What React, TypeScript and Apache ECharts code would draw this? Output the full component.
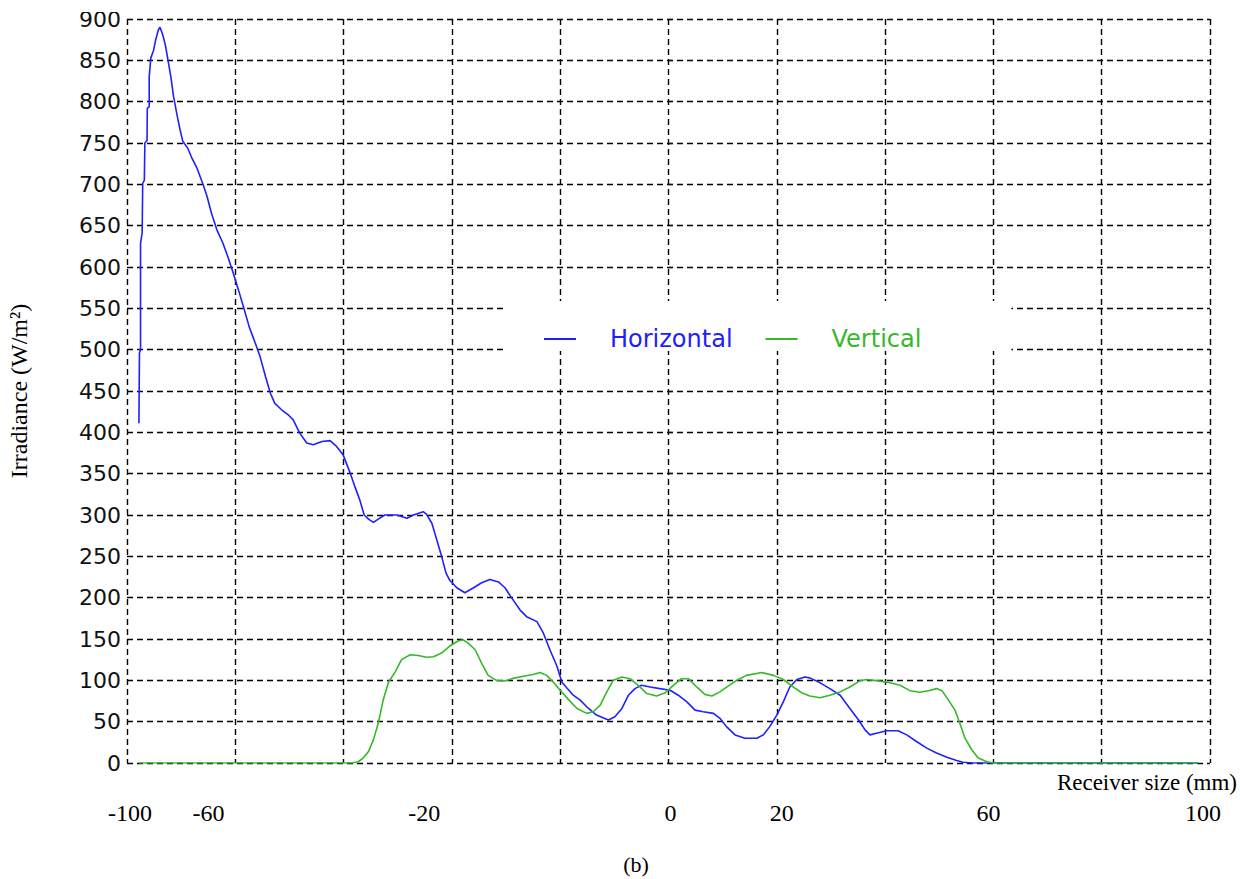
import React, { useEffect, useRef } from "react";
import * as echarts from "echarts";

const xTickLabels = [-100, -60, -20, 0, 20, 60, 100];
// horizontal offsets (px) of the printed tick labels relative to their tick, as placed in the original figure
const xTickShift = [3, -135, -136, 2, 5, -5, -7];

const seriesNames = ["Horizontal", "Vertical"];
const seriesColors = ["#2020ff", "#36b82a"];

const horizontal: [number, number][] = [
  [-97.8, 411], [-97.7, 496], [-97.5, 500], [-97.5, 629], [-97.2, 641], [-97.1, 701], [-96.8, 705],
  [-96.7, 750], [-96.3, 753], [-96.25, 792], [-95.9, 794], [-95.9, 830], [-95.6, 853], [-95.1, 862],
  [-94.7, 875], [-94.2, 887], [-93.9, 890], [-93.4, 881], [-92.9, 868], [-92.4, 849], [-91.9, 830],
  [-91.4, 806], [-90.7, 782], [-90.2, 766], [-89.7, 752], [-88.8, 744], [-88.1, 733], [-87.1, 720],
  [-85.9, 699], [-85.2, 685], [-84.4, 665], [-83.4, 645], [-82.3, 629], [-81.3, 611], [-80.4, 593],
  [-79.4, 572], [-78.5, 552], [-77.4, 527], [-76.2, 506], [-75.4, 491], [-74.4, 467], [-73.5, 447],
  [-72.7, 435], [-71.4, 427], [-70.2, 421], [-69.3, 415], [-68.1, 399], [-66.8, 387], [-65.6, 385],
  [-64.0, 389], [-62.5, 390], [-61.3, 383], [-60.1, 373], [-58.8, 351], [-57.9, 334], [-57.0, 318],
  [-56.2, 300], [-55.4, 295], [-54.5, 291], [-53.6, 295], [-52.4, 300], [-50.2, 300], [-48.3, 296],
  [-47.1, 300], [-45.3, 304], [-44.7, 301], [-43.7, 290], [-42.8, 270], [-41.9, 250], [-41.1, 230],
  [-40.4, 221], [-39.1, 212], [-37.6, 206], [-36.0, 212], [-34.5, 218], [-33.0, 222], [-31.4, 219],
  [-30.2, 212], [-29.0, 200], [-27.4, 185], [-26.2, 177], [-24.3, 171], [-23.1, 157], [-21.9, 137],
  [-20.6, 117], [-19.7, 98], [-18.8, 91], [-17.6, 82], [-16.3, 76], [-15.1, 68], [-13.3, 58],
  [-11.1, 52], [-9.9, 56], [-8.6, 66], [-7.4, 82], [-6.2, 90], [-5.0, 94], [-3.4, 92], [-1.6, 90],
  [0.3, 88], [1.8, 82], [3.4, 74], [4.9, 64], [6.4, 62], [8.3, 60], [9.5, 54], [10.7, 44], [12.3, 34],
  [14.1, 30], [16.3, 30], [17.5, 34], [18.7, 44], [20.0, 58], [21.2, 74], [22.4, 92], [23.7, 101],
  [25.2, 104], [26.1, 103], [28.0, 97], [29.8, 90], [31.7, 82], [33.5, 66], [35.1, 52], [36.3, 40],
  [37.2, 34], [38.4, 36], [40.3, 39], [42.4, 39], [44.0, 34], [45.8, 26], [47.7, 18], [49.5, 12],
  [51.4, 7], [53.2, 3], [54.4, 1], [56.0, 0], [97.8, 0],
];

const vertical: [number, number][] = [
  [-97.8, 0], [-58.5, 0], [-57.3, 1.5], [-56.4, 6], [-55.4, 14], [-54.5, 28], [-53.6, 48], [-52.7, 76],
  [-51.7, 98], [-50.5, 110], [-49.3, 125], [-47.7, 131], [-46.2, 130], [-44.7, 128], [-43.4, 128.5],
  [-41.9, 133], [-40.4, 141.5], [-38.9, 147.6], [-37.9, 149], [-37.0, 145], [-35.7, 137], [-34.5, 120.6],
  [-33.3, 106], [-31.7, 99.6], [-30.2, 99.2], [-28.7, 102.4], [-26.8, 105], [-25.0, 107], [-23.7, 109.4],
  [-22.5, 106], [-21.3, 98], [-20.0, 88], [-18.5, 77], [-16.9, 66], [-15.1, 60], [-13.9, 62],
  [-12.6, 70], [-11.4, 86], [-10.2, 100], [-8.6, 104], [-7.1, 102], [-5.6, 94], [-4.0, 84], [-2.2, 81],
  [-0.6, 85], [0.9, 94], [2.4, 102], [3.7, 102], [5.2, 92], [6.7, 83], [8.0, 81], [9.5, 86], [11.0, 93],
  [12.6, 100], [14.4, 106], [17.2, 109.4], [19.4, 106], [21.2, 101], [23.0, 92], [24.6, 85], [26.1, 81],
  [28.0, 79], [29.8, 82], [31.7, 86], [33.5, 92], [35.4, 99.6], [36.6, 101], [38.4, 99.6], [40.9, 97],
  [42.75, 94], [44.6, 87.5], [46.4, 85.5], [48.0, 87.5], [49.5, 90], [50.5, 87.5], [51.7, 76],
  [52.9, 64], [53.8, 48], [54.75, 30], [56.0, 16], [57.2, 6], [58.8, 1.5], [60.0, 0], [97.8, 0],
];

const SERIF = '"Liberation Serif", "Times New Roman", serif';
const SANS = '"DejaVu Sans", sans-serif';

export default function App() {
  const ref = useRef<HTMLDivElement>(null);

  useEffect(() => {
    if (!ref.current) return;
    const chart = echarts.init(ref.current, null, { renderer: "svg" });

    const rich: Record<string, any> = {};
    xTickLabels.forEach((_, i) => {
      const s = xTickShift[i];
      rich["t" + i] = {
        fontFamily: SERIF,
        fontSize: 24,
        lineHeight: 24,
        color: "#000",
        padding: s >= 0 ? [0, 0, 0, 2 * s] : [0, -2 * s, 0, 0],
      };
    });

    const gridLine = { color: "#000", width: 1.4, type: [6, 4] as any };

    chart.setOption({
      animation: false,
      backgroundColor: "#fff",
      grid: {
        left: 127,
        right: 30,
        top: 19,
        bottom: 116,
        containLabel: false,
        outerBoundsMode: "none",
      },
      legend: {
        left: 507,
        top: 301,
        padding: [26, 90, 0, 37],
        backgroundColor: "#fff",
        icon: "rect",
        itemWidth: 32,
        itemHeight: 2,
        itemGap: 33,
        data: seriesNames.map((n, i) => ({
          name: n,
          textStyle: {
            color: seriesColors[i],
            fontFamily: SANS,
            fontSize: 24,
            lineHeight: 22,
            padding: [0, 0, 0, 29],
          },
        })),
      },
      xAxis: {
        type: "value",
        min: -100,
        max: 100,
        interval: 20,
        name: "Receiver size (mm)",
        nameLocation: "end",
        nameGap: 27,
        nameTextStyle: {
          fontFamily: SERIF,
          fontSize: 23,
          color: "#000",
          align: "right",
          verticalAlign: "top",
          padding: [8, 0, 0, 0],
        },
        axisLine: { show: false },
        axisTick: { show: false },
        splitLine: { show: true, lineStyle: gridLine },
        axisLabel: {
          margin: 38,
          showMinLabel: true,
          showMaxLabel: true,
          hideOverlap: false,
          formatter: (v: number) => {
            const i = xTickLabels.indexOf(v);
            return i >= 0 ? `{t${i}|${v}}` : "";
          },
          rich,
        },
      },
      yAxis: {
        type: "value",
        min: 0,
        max: 900,
        interval: 50,
        name: "Irradiance (W/m²)",
        nameLocation: "middle",
        nameGap: 96,
        nameRotate: 90,
        nameTextStyle: { fontFamily: SERIF, fontSize: 24, color: "#000" },
        axisLine: { show: false },
        axisTick: { show: true, inside: true, length: 4, lineStyle: { color: "#111", width: 1.3 } },
        splitLine: { show: true, lineStyle: gridLine },
        axisLabel: {
          margin: 6,
          fontFamily: SANS,
          fontSize: 22,
          color: "#111",
          showMinLabel: true,
          showMaxLabel: true,
        },
      },
      graphic: [
        {
          type: "rect",
          z: 100,
          shape: { x: 0, y: 0, width: 125, height: 12 },
          style: { fill: "#fff" },
        },
        {
          type: "text",
          z: 100,
          x: 636,
          y: 864,
          style: {
            text: "(b)",
            fontFamily: SERIF,
            fontSize: 22,
            fill: "#000",
            align: "center",
            verticalAlign: "middle",
          },
        },
      ],
      series: [
        {
          name: seriesNames[0],
          type: "line",
          data: horizontal,
          symbol: "none",
          smooth: false,
          lineStyle: { color: seriesColors[0], width: 1.6 },
          itemStyle: { color: seriesColors[0] },
        },
        {
          name: seriesNames[1],
          type: "line",
          data: vertical,
          symbol: "none",
          smooth: false,
          lineStyle: { color: seriesColors[1], width: 1.6 },
          itemStyle: { color: seriesColors[1] },
        },
      ],
    });

    return () => chart.dispose();
  }, []);

  return (
    <div
      ref={ref}
      style={{ position: "absolute", left: 0, top: 0, width: 1240, height: 879 }}
    />
  );
}
